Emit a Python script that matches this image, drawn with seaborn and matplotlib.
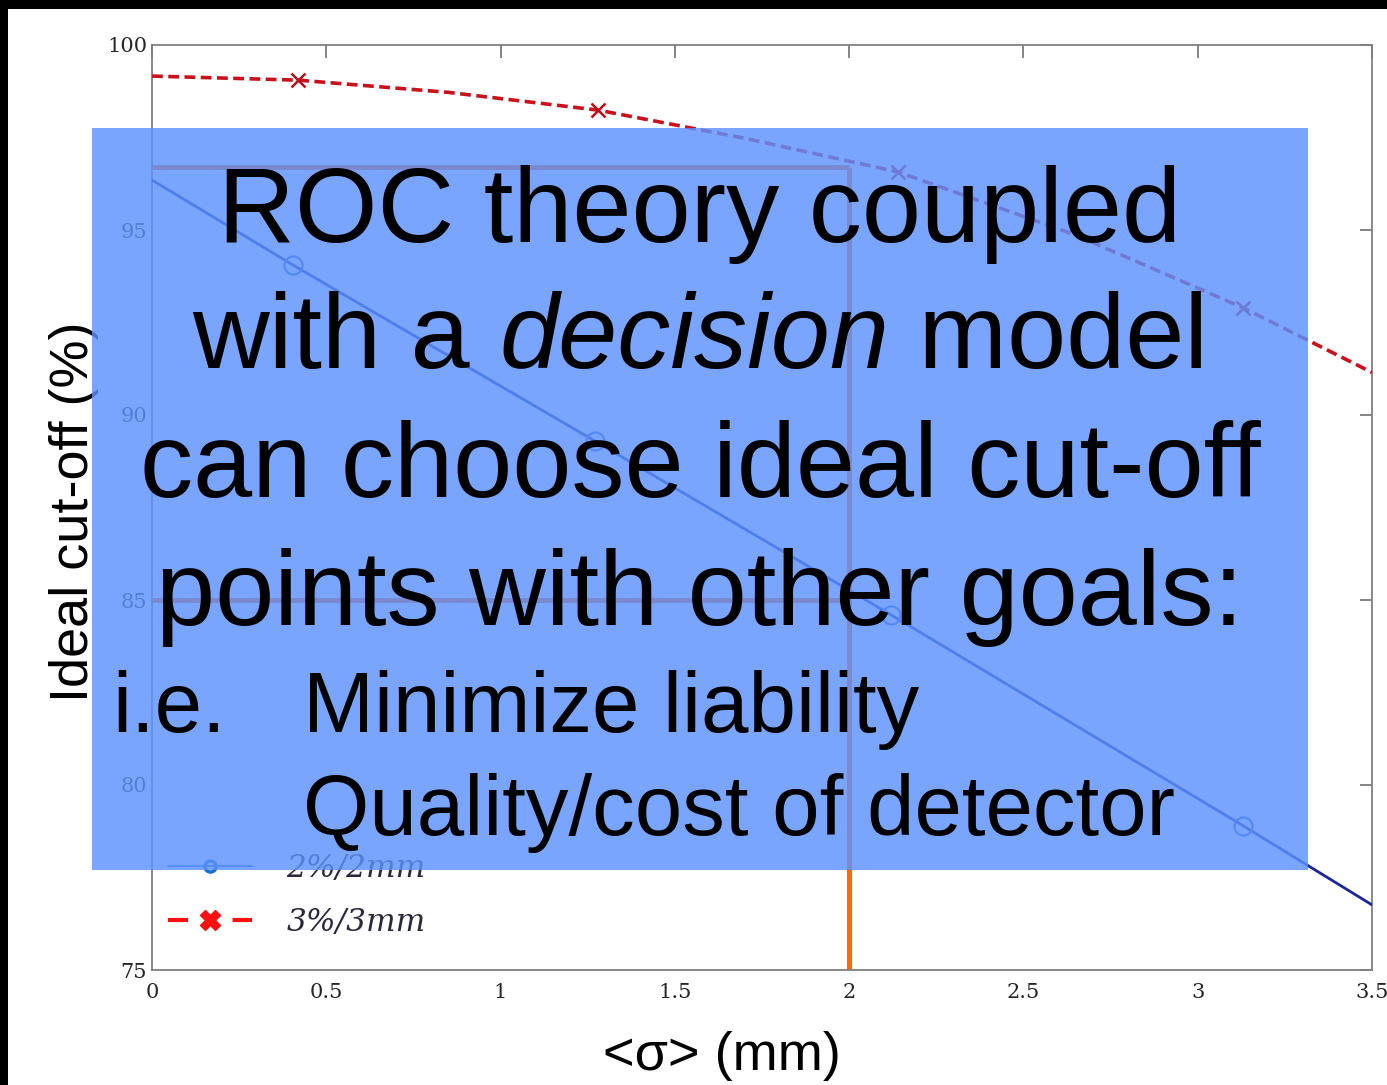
import matplotlib
matplotlib.use("Agg")
import matplotlib.pyplot as plt
import seaborn as sns
from matplotlib.patches import Rectangle
from matplotlib.lines import Line2D

# ---- data -------------------------------------------------------------
sigma_2mm = [0.0, 0.405, 1.27, 2.12, 3.13, 3.5]
cutoff_2mm = [96.35, 94.05, 89.3, 84.6, 78.9, 76.76]

sigma_3mm = [0.0, 0.42, 0.85, 1.28, 1.71, 2.14, 2.64, 3.13, 3.5]
cutoff_3mm = [99.16, 99.05, 98.72, 98.24, 97.46, 96.57, 94.9, 92.9, 91.15]

series_labels = ["2%/2mm", "3%/3mm"]

chosen_sigma = 2.0
chosen_levels = [96.7, 85.0]

x_ticks = [0, 0.5, 1, 1.5, 2, 2.5, 3, 3.5]
x_tick_labels = ["0", "0.5", "1", "1.5", "2", "2.5", "3", "3.5"]
y_ticks = [75, 80, 85, 90, 95, 100]
y_tick_labels = ["75", "80", "85", "90", "95", "100"]

x_label = "<\u03c3> (mm)"
y_label = "Ideal cut-off (%)"
big_lines = ["ROC theory coupled", None, "can choose ideal cut-off",
             "points with other goals:"]
line2_parts = ["with a ", "decision", " model"]
goal_prefix = "i.e."
goal_lines = ["Minimize liability", "Quality/cost of detector"]

# ---- figure -----------------------------------------------------------
sns.set_theme(style="white")
plt.rcParams["font.family"] = ["Liberation Sans", "DejaVu Sans"]

W, H = 1387, 1085
fig = plt.figure(figsize=(W / 100, H / 100), dpi=100)
fig.patch.set_facecolor("white")
ax = fig.add_axes([152 / W, 1 - 970 / H, 1220 / W, 925 / H])
ax.set_facecolor("white")

# chosen operating point guides
ax.vlines(chosen_sigma, 75, chosen_levels[0], color="#ff6a00", lw=3.6, zorder=1)
ax.hlines(chosen_levels, 0, chosen_sigma, color="#ff6a00", lw=3.6, zorder=1)

sns.lineplot(x=sigma_2mm, y=cutoff_2mm, ax=ax, color="#1a269a", lw=2.0,
             marker="o", markersize=13, markerfacecolor="none",
             markeredgecolor="#2a5ad0", markeredgewidth=1.5,
             markevery=[1, 2, 3, 4], legend=False, zorder=3)
sns.lineplot(x=sigma_3mm, y=cutoff_3mm, ax=ax, color="#c8121c", lw=2.6,
             linestyle=(0, (3, 1.5)), marker="x", markersize=10,
             markeredgecolor="#b81018", markeredgewidth=1.8,
             markevery=[1, 3, 5, 7], legend=False, zorder=3)

ax.set_xlim(0, 3.5)
ax.set_ylim(75, 100)
ax.set_xticks(x_ticks)
ax.set_xticklabels(x_tick_labels)
ax.set_yticks(y_ticks)
ax.set_yticklabels(y_tick_labels)
ax.set_xlabel("")
ax.set_ylabel("")
ax.tick_params(axis="both", direction="in", length=9, width=1.2,
               color="#707070", top=True, right=True, labelsize=15,
               labelcolor="#262626")
ax.tick_params(axis="x", pad=9.0)
ax.tick_params(axis="y", pad=3.5)
for lab in ax.get_xticklabels() + ax.get_yticklabels():
    lab.set_family("DejaVu Serif")
for sp in ax.spines.values():
    sp.set_color("#808080")
    sp.set_linewidth(1.3)

# legend
h_blue = Line2D([], [], color="#3a7fe0", lw=1.5, marker="o", markersize=8,
                markerfacecolor="none", markeredgecolor="#1a70d0",
                markeredgewidth=2.5)
h_red = Line2D([], [], color="#ff1010", lw=3, linestyle=(0, (4.8, 10.7)),
               marker="X", markersize=14, markerfacecolor="#ff1010",
               markeredgecolor="#ff1010")
leg = ax.legend([h_blue, h_red], series_labels, loc="lower left",
                bbox_to_anchor=(0.013, 0.035), borderaxespad=0, borderpad=0,
                frameon=False, handlelength=2.7, handletextpad=1.1,
                labelspacing=0.72, numpoints=1,
                prop={"family": "DejaVu Serif", "style": "italic", "size": 22.5})
for t in leg.get_texts():
    t.set_color("#2a2a3a")

# axis titles
fig.text(74 / W, 1 - 512 / H, y_label, rotation=90, ha="center", va="center",
         fontsize=39, color="black", zorder=1)
fig.text(722 / W, 1 - 1070 / H, x_label, ha="center", va="baseline",
         fontsize=39, color="black", zorder=1)

# highlight panel
fig.add_artist(Rectangle((92 / W, 1 - 870 / H), 1216 / W, 742 / H,
                         transform=fig.transFigure, facecolor="#5c92ff",
                         edgecolor="none", alpha=0.82, zorder=5))

big_size = 76.5
small_size = 61.4
big_baselines = [242, 368, 497, 625]
for txt, yb in zip(big_lines, big_baselines):
    if txt is not None:
        fig.text(700 / W, 1 - yb / H, txt, ha="center", va="baseline",
                 fontsize=big_size, color="black", zorder=6)

# second line mixes upright and italic text
renderer = fig.canvas.get_renderer()
parts = []
for i, p in enumerate(line2_parts):
    t = fig.text(0, 1 - big_baselines[1] / H, p, ha="left", va="baseline",
                 fontsize=big_size, color="black", zorder=6,
                 style="italic" if i == 1 else "normal")
    parts.append(t)
widths = [t.get_window_extent(renderer).width for t in parts]
total = sum(widths)
x0 = 700 - total / 2
for t, w in zip(parts, widths):
    t.set_x(x0 / W)
    x0 += w

fig.text(112 / W, 1 - 732 / H, goal_prefix, ha="left", va="baseline",
         fontsize=small_size, color="black", zorder=6)
for txt, yb in zip(goal_lines, [732, 835]):
    fig.text(303 / W, 1 - yb / H, txt, ha="left", va="baseline",
             fontsize=small_size, color="black", zorder=6)

# dark frame edges
fig.add_artist(Rectangle((0, 1 - 9 / H), 1, 9 / H, transform=fig.transFigure,
                         facecolor="black", edgecolor="none", zorder=10))
fig.add_artist(Rectangle((0, 0), 8 / W, 1, transform=fig.transFigure,
                         facecolor="black", edgecolor="none", zorder=10))

fig.savefig("out.png", dpi=100, facecolor="white")
